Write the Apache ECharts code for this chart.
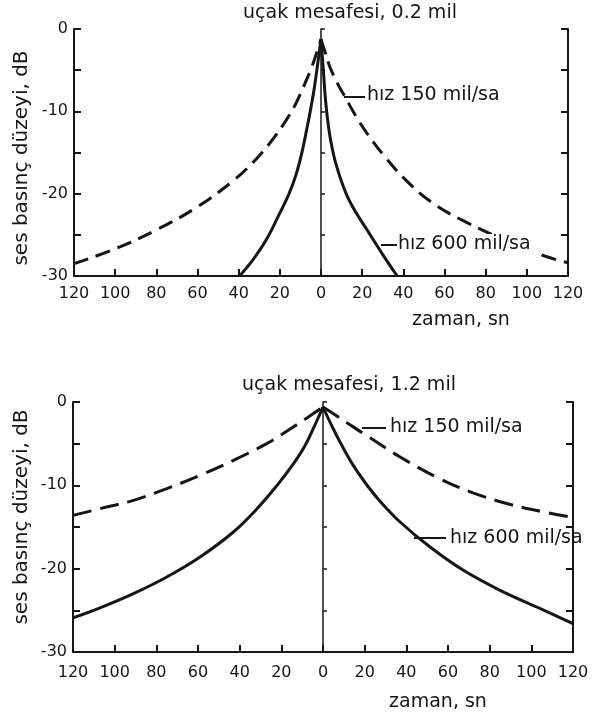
<!DOCTYPE html>
<html>
<head>
<meta charset="utf-8">
<script src="https://cdn.jsdelivr.net/npm/echarts@6/dist/echarts.min.js"></script>
<style>
  html, body { margin: 0; padding: 0; background: #fff; }
  #chart { width: 598px; height: 722px; }
</style>
</head>
<body>
<div id="chart"></div>
<script>
// Aircraft flyover noise: sound pressure level against time for two speeds,
// at two slant distances (upper panel 0.2 mile, lower panel 1.2 mile).

const panelTitles = ['uçak mesafesi, 0.2 mil', 'uçak mesafesi, 1.2 mil'];
const speedLabels = ['hız 150 mil/sa', 'hız 600 mil/sa'];
const levelName = 'ses basınç düzeyi, dB';
const timeName = 'zaman, sn';
const levelTickLabels = [0, -10, -20, -30];

// 0.2 mile, 150 mph (dashed)
const near150T  = [-120, -100, -80, -60, -43, -33, -25, -18, -12.5, -8.5, -4.3, -2, 0, 2, 4.3, 8, 12, 17, 23, 31, 41, 54, 70, 90, 109, 120];
const near150Db = [-28.5, -26.7, -24.4, -21.6, -18.5, -16.2, -13.9, -11.5, -9.2, -7, -4.5, -2.8, -1.3, -2.8, -4.6, -6.6, -8.4, -10.6, -12.9, -15.5, -18.3, -21.1, -23.4, -25.7, -27.6, -28.4];

// 0.2 mile, 600 mph (solid)
const near600T  = [-39.6, -33, -26.6, -20.5, -15.5, -12, -9, -6.8, -5, -3.4, -1.8, 0, 1, 2, 3.2, 4.9, 7.5, 12.2, 17, 23.4, 30, 37];
const near600Db = [-30, -28, -25.6, -22.6, -20, -17.6, -14.7, -12, -9.7, -7.4, -4.6, -1.2, -4.5, -8, -11, -13.8, -16.6, -20, -22.3, -24.8, -27.4, -30];

// 1.2 mile, 150 mph (dashed)
const far150T  = [-120, -107, -91, -75, -59, -43, -27, -18, -7, 0, 5, 11.5, 22.6, 37, 56, 72, 90, 106, 119];
const far150Db = [-13.6, -12.8, -11.8, -10.4, -8.8, -7, -5, -3.6, -1.8, -0.6, -1.4, -2.5, -4.3, -6.6, -9.2, -10.9, -12.3, -13.2, -13.8];

// 1.2 mile, 600 mph (solid)
const far600T  = [-120, -107, -91, -75, -59, -43, -32, -23, -15, -9, -4.5, 0, 4.5, 9, 14, 20, 27, 37, 51.4, 67.4, 85, 102.6, 120];
const far600Db = [-25.9, -24.7, -23, -21, -18.6, -15.6, -12.9, -10.3, -7.7, -5.4, -3.1, -0.6, -3, -5.2, -7.4, -9.6, -11.8, -14.4, -17.4, -20.2, -22.6, -24.6, -26.6];

const ink = '#161616';
const fontFamily = 'DejaVu Sans';

// Each curve is drawn as two halves that meet at the pointed peak (t = 0).
function half(ts, vs, side) {
  const out = [];
  ts.forEach((t, i) => {
    if (side < 0 ? t <= 0 : t >= 0) out.push([t, vs[i]]);
  });
  return out;
}

function curve(ts, vs, grid, dashed, name) {
  return [-1, 1].map(side => ({
    type: 'line',
    name: name,
    xAxisIndex: grid,
    yAxisIndex: grid * 3,
    data: half(ts, vs, side),
    smooth: 0.4,
    symbol: 'none',
    silent: true,
    animation: false,
    z: 3,
    lineStyle: {
      color: ink,
      width: 3,
      type: dashed ? (grid === 0 ? [15, 8] : [19, 9]) : 'solid',
      cap: 'butt'
    }
  }));
}

const axisLineStyle = { color: ink, width: 2 };

function xAxisFor(g) {
  return {
    gridIndex: g,
    type: 'value',
    min: -120, max: 120, interval: 20,
    axisLine: { show: true, onZero: false, lineStyle: axisLineStyle },
    axisTick: { show: true, inside: true, length: 7, lineStyle: { color: ink, width: 2 } },
    axisLabel: {
      formatter: v => String(Math.abs(v)),
      fontSize: 16, color: ink, fontFamily: fontFamily,
      margin: g === 0 ? 10 : 13
    },
    splitLine: { show: false }
  };
}

function yAxesFor(g) {
  const common = {
    gridIndex: g,
    type: 'value',
    min: -30, max: 0, interval: 5,
    splitLine: { show: false }
  };
  return [
    Object.assign({}, common, {
      position: 'left',
      axisLine: { show: true, onZero: false, lineStyle: axisLineStyle },
      axisTick: { show: true, inside: true, length: 7, lineStyle: { color: ink, width: 2 } },
      axisLabel: {
        formatter: v => (levelTickLabels.includes(v) ? String(v) : ''),
        fontSize: 16, color: ink, fontFamily: fontFamily, margin: 6
      }
    }),
    Object.assign({}, common, {
      position: 'right',
      axisLine: { show: true, onZero: false, lineStyle: axisLineStyle },
      axisTick: { show: true, inside: true, length: 7, lineStyle: { color: ink, width: 2 } },
      axisLabel: { show: false }
    }),
    // centre line at t = 0
    Object.assign({}, common, {
      position: 'left',
      axisLine: { show: true, onZero: true, lineStyle: { color: ink, width: 1.5 } },
      axisTick: { show: true, inside: true, length: 4, lineStyle: { color: ink, width: 1.5 } },
      axisLabel: { show: false }
    })
  ];
}

function text(str, x, y, opts) {
  return Object.assign({
    type: 'text',
    x: x, y: y,
    z: 120,
    silent: true,
    style: Object.assign({
      text: str,
      font: '19px "DejaVu Sans"',
      fill: ink,
      textAlign: 'left',
      textVerticalAlign: 'middle'
    }, (opts && opts.style) || {})
  }, opts && opts.rotation != null ? { rotation: opts.rotation } : {});
}

function leader(x1, y1, x2, y2) {
  return {
    type: 'line', z: 120, silent: true,
    shape: { x1: x1, y1: y1, x2: x2, y2: y2 },
    style: { stroke: ink, lineWidth: 2 }
  };
}

const chart = echarts.init(document.getElementById('chart'), null, { renderer: 'canvas' });

chart.setOption({
  backgroundColor: '#ffffff',
  animation: false,
  textStyle: { fontFamily: fontFamily },
  grid: [
    { left: 74, top: 29, width: 494, height: 247, outerBoundsMode: 'none' },
    { left: 73, top: 402, width: 500, height: 250, outerBoundsMode: 'none' }
  ],
  xAxis: [xAxisFor(0), xAxisFor(1)],
  yAxis: yAxesFor(0).concat(yAxesFor(1)),
  series: [].concat(
    curve(near150T, near150Db, 0, true, speedLabels[0]),
    curve(near600T, near600Db, 0, false, speedLabels[1]),
    curve(far150T, far150Db, 1, true, speedLabels[0]),
    curve(far600T, far600Db, 1, false, speedLabels[1])
  ),
  graphic: [
    // panel titles
    text(panelTitles[0], 350, 13, { style: { textAlign: 'center' } }),
    text(panelTitles[1], 349, 385, { style: { textAlign: 'center' } }),
    // level axis names
    text(levelName, 22, 158, { rotation: Math.PI / 2, style: { textAlign: 'center', font: '20px "DejaVu Sans"' } }),
    text(levelName, 22, 517, { rotation: Math.PI / 2, style: { textAlign: 'center', font: '20px "DejaVu Sans"' } }),
    // time axis names
    text(timeName, 461, 320, { style: { textAlign: 'center' } }),
    text(timeName, 438, 702, { style: { textAlign: 'center' } }),
    // upper panel curve labels
    leader(344, 97, 365, 97),
    text(speedLabels[0], 367, 95),
    { type: 'rect', z: 110, silent: true, shape: { x: 396, y: 234, width: 146, height: 21 }, style: { fill: '#ffffff' } },
    leader(381, 245, 397, 245),
    text(speedLabels[1], 398, 244),
    // lower panel curve labels
    leader(362, 428, 386, 428),
    text(speedLabels[0], 390, 427),
    leader(414, 538, 446, 538),
    text(speedLabels[1], 450, 538)
  ]
});
</script>
</body>
</html>
